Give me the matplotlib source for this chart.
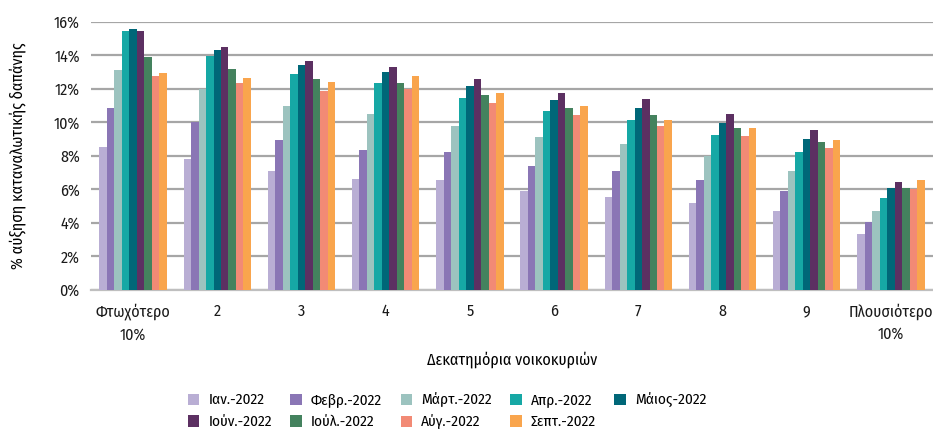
import numpy as np
import matplotlib.pyplot as plt

plt.rcParams['font.family'] = ['Fira Sans Condensed', 'DejaVu Sans']

deciles = ["Φτωχότερο\n10%", "2", "3", "4", "5", "6", "7", "8", "9", "Πλουσιότερο\n10%"]
months = ["Ιαν.-2022", "Φεβρ.-2022", "Μάρτ.-2022", "Απρ.-2022", "Μάιος-2022",
          "Ιούν.-2022", "Ιούλ.-2022", "Αύγ.-2022", "Σεπτ.-2022"]
colors = ["#b9aed4", "#8a76b5", "#9cc3bf", "#16a8a5", "#006778",
          "#5c3062", "#44825e", "#f28a75", "#f9a54d"]

# % increase per decile, one list per month
jan = [8.5, 7.8, 7.1, 6.6, 6.55, 5.9, 5.5, 5.2, 4.7, 3.3]
feb = [10.85, 10.0, 8.95, 8.35, 8.2, 7.4, 7.1, 6.55, 5.9, 4.05]
mar = [13.1, 11.95, 10.95, 10.5, 9.75, 9.1, 8.7, 7.95, 7.1, 4.7]
apr = [15.45, 13.95, 12.9, 12.35, 11.45, 10.65, 10.1, 9.25, 8.2, 5.45]
may = [15.55, 14.3, 13.4, 13.0, 12.15, 11.35, 10.85, 9.95, 9.0, 6.05]
jun = [15.45, 14.5, 13.65, 13.3, 12.6, 11.75, 11.4, 10.5, 9.55, 6.45]
jul = [13.9, 13.2, 12.6, 12.35, 11.6, 10.85, 10.45, 9.65, 8.8, 6.05]
aug = [12.75, 12.35, 11.85, 12.0, 11.15, 10.45, 9.75, 9.2, 8.45, 6.0]
sep = [12.95, 12.65, 12.4, 12.75, 11.75, 10.95, 10.15, 9.65, 8.95, 6.55]
series = [jan, feb, mar, apr, may, jun, jul, aug, sep]

fig = plt.figure(figsize=(9.33, 4.29), dpi=100)
ax = fig.add_axes([0.0975, 0.325, 0.9025, 0.6245])

x = np.arange(len(deciles))
w = 0.8 / len(series)
for i, (vals, c, lab) in enumerate(zip(series, colors, months)):
    ax.bar(x - 0.4 + w * (i + 0.5), vals, w, color=c, label=lab, zorder=3)

ax.set_xlim(-0.5, len(deciles) - 0.5)
ax.set_ylim(0, 16)
ax.set_yticks(np.arange(0, 17, 2))
ax.set_yticklabels([f"{v}%" for v in range(0, 17, 2)])
ax.set_xticks(x)
ax.set_xticklabels(deciles, linespacing=1.5)
ax.grid(axis='y', color='#a6a6a6', linewidth=1.6, zorder=0)
for s in ['top', 'right', 'left']:
    ax.spines[s].set_visible(False)
ax.spines['bottom'].set_color('#bfbfbf')
ax.spines['bottom'].set_linewidth(1.6)
ax.tick_params(length=0, labelsize=11.5, colors='#1a1a1a')
ax.tick_params(axis='y', pad=8)
ax.tick_params(axis='x', pad=10)

ax.set_ylabel("% αύξηση καταναλωτικής δαπάνης", fontsize=11.5, labelpad=20)
ax.set_xlabel("Δεκατημόρια νοικοκυριών", fontsize=11.5, labelpad=6)

# reorder so the legend reads row by row
handles, labels = ax.get_legend_handles_labels()
order = [0, 5, 1, 6, 2, 7, 3, 8, 4]
fig.legend([handles[i] for i in order], [labels[i] for i in order], ncol=5,
           loc='upper left', bbox_to_anchor=(0.19, 0.11),
           frameon=False, fontsize=11, handlelength=0.75, handleheight=0.75,
           columnspacing=1.2, handletextpad=0.6, labelspacing=0.5,
           borderpad=0.2)

fig.savefig("out.png", dpi=100)
